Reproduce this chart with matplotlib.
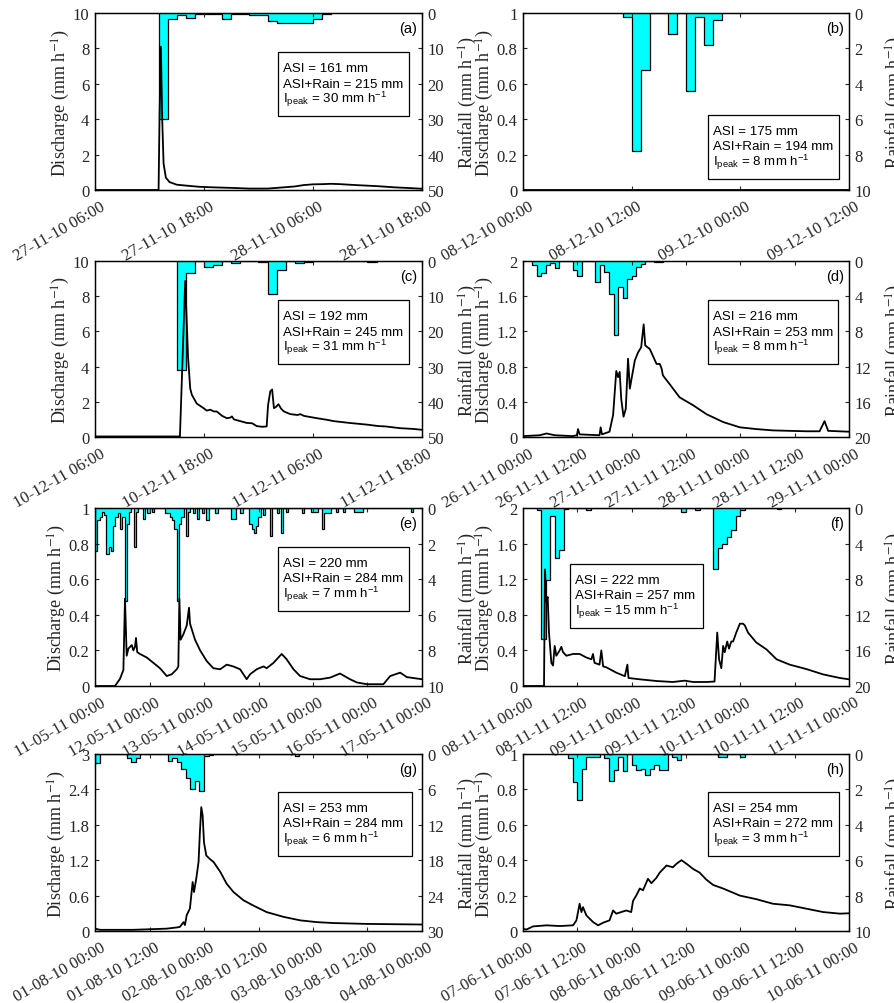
import numpy as np
import matplotlib
matplotlib.use('Agg')
import matplotlib.pyplot as plt
from matplotlib.patches import Rectangle
import matplotlib.transforms as mtransforms

plt.rcParams['font.family'] = ['Liberation Serif', 'DejaVu Serif']
plt.rcParams['mathtext.fontset'] = 'custom'
plt.rcParams['mathtext.rm'] = 'Liberation Sans'
plt.rcParams['mathtext.it'] = 'Liberation Sans:italic'
plt.rcParams['mathtext.bf'] = 'Liberation Sans:bold'
plt.rcParams['axes.linewidth'] = 0.9

# ---------------- data (hours from the left edge of each panel) ----------------
# (a)
a_xlabels = ['27-11-10 06:00', '27-11-10 18:00', '28-11-10 06:00', '28-11-10 18:00']
a_q_h = [0, 7.0, 7.1, 7.25, 7.4, 7.55, 7.8, 8.2, 9.0, 10.0, 11.5, 13, 15, 17, 19, 20, 22, 23, 24, 25, 26, 27, 29, 31, 33, 35, 36]
a_q_v = [0, 0, 4.0, 8.1, 4.0, 1.5, 0.7, 0.45, 0.3, 0.25, 0.18, 0.15, 0.12, 0.08, 0.08, 0.12, 0.2, 0.28, 0.32, 0.33, 0.35, 0.33, 0.27, 0.22, 0.15, 0.1, 0.07]
a_rain_h = list(range(7, 26))
a_rain_v = [30, 1.8, 0.6, 1.3, 0.4, 0.4, 0.4, 1.8, 0.4, 0.4, 0.6, 0.6, 2.35, 2.7, 2.7, 2.9, 2.7, 1.8, 0.2]
a_text = ['ASI = 161 mm', 'ASI+Rain = 215 mm', '30']

# (b)
b_xlabels = ['08-12-10 00:00', '08-12-10 12:00', '09-12-10 00:00', '09-12-10 12:00']
b_q_h = [0, 36]
b_q_v = [0, 0]
b_rain_h = list(range(11, 22))
b_rain_v = [0.2, 7.8, 3.2, 0, 0, 1.2, 0, 4.4, 0.2, 1.8, 0.4]
b_text = ['ASI = 175 mm', 'ASI+Rain = 194 mm', '8']

# (c)
c_xlabels = ['10-12-11 06:00', '10-12-11 18:00', '11-12-11 06:00', '11-12-11 18:00']
c_q_h = [0, 9.35, 9.93, 10.25, 10.48, 10.66, 11.2, 11.95, 12.3, 12.7, 13.1, 13.4, 14.0, 14.5, 14.9,
         15.07, 15.3, 16.0, 16.7, 17.3, 17.8, 18.4, 18.9, 19.05, 19.3, 19.5, 19.7, 19.9, 20.2, 20.5,
         20.8, 21.5, 22.3, 22.6, 23.0, 24.4, 25.5, 26.3, 28, 30, 31.2, 32, 33.6, 35, 36]
c_q_v = [0.03, 0.03, 8.87, 4.5, 2.76, 2.4, 1.9, 1.64, 1.5, 1.55, 1.45, 1.45, 1.2, 1.07, 1.1,
         1.17, 1.0, 0.9, 0.8, 0.78, 0.62, 0.58, 0.6, 1.8, 2.6, 2.7, 1.64, 1.7, 1.86, 1.6,
         1.45, 1.3, 1.25, 1.3, 1.2, 1.07, 0.98, 0.9, 0.8, 0.7, 0.62, 0.6, 0.5, 0.46, 0.41]
c_rain_h = list(range(9, 31))
c_rain_v = [31, 3.5, 0, 1.6, 1.2, 0, 0.5, 0, 0, 0.3, 9.4, 2.6, 0, 0.5, 0.2, 0.1, 0, 0, 0, 0, 0, 0.2]
c_text = ['ASI = 192 mm', 'ASI+Rain = 245 mm', '31']

# (d)
d_xlabels = ['26-11-11 00:00', '26-11-11 12:00', '27-11-11 00:00', '27-11-11 12:00',
             '28-11-11 00:00', '28-11-11 12:00', '29-11-11 00:00']
d_q_h = [0, 3.7, 5.2, 7.0, 11.0, 11.9, 12.15, 12.5, 16.9, 17.15, 17.45, 19.1, 19.9, 20.6, 21.0,
         21.35, 21.7, 22.2, 22.7, 23.2, 23.6, 23.9, 24.7, 25.4, 26.1, 26.65, 27.0, 28.0, 29.5,
         30.2, 30.6, 30.9, 32.4, 34.6, 37.6, 40.5, 44.2, 47.9, 51.5, 55.2, 62.6, 65.5, 66.6, 67.4, 72]
d_q_v = [0.01, 0.02, 0.04, 0.02, 0.01, 0.02, 0.09, 0.03, 0.02, 0.11, 0.03, 0.06, 0.25, 0.75, 0.68,
         0.74, 0.43, 0.23, 0.32, 0.89, 0.55, 0.64, 0.87, 0.96, 1.02, 1.28, 1.04, 1.0, 0.83,
         0.83, 0.78, 0.7, 0.6, 0.45, 0.36, 0.26, 0.17, 0.11, 0.09, 0.075, 0.065, 0.065, 0.18, 0.07, 0.06]
d_rain_h = list(range(2, 31))
d_rain_v = [0.5, 1.75, 1.4, 0.5, 0.2, 0.75, 0, 0, 0, 1.0, 1.75, 0, 0, 0, 2.4, 0.4, 1.25, 3.8, 8.4,
            3.0, 4.2, 2.0, 1.75, 0.7, 0.3, 0, 0, 0.1, 0.1]
d_text = ['ASI = 216 mm', 'ASI+Rain = 253 mm', '8']

# (e)
e_xlabels = ['11-05-11 00:00', '12-05-11 00:00', '13-05-11 00:00', '14-05-11 00:00',
             '15-05-11 00:00', '16-05-11 00:00', '17-05-11 00:00']
e_q_h = [0, 8.8, 11.0, 12.5, 13.2, 13.65, 13.95, 14.7, 16.2, 16.9, 17.6, 18.06, 18.6, 19.8, 22.8,
         25.7, 28.6, 31.6, 33.8, 36.0, 36.7, 37.15, 37.7, 38.9, 40.4, 41.4, 41.85, 44.05, 46.3,
         49.2, 52.1, 55.1, 58.0, 60.9, 63.9, 66.8, 68.3, 71.2, 74.2, 75.6, 78.6, 82.2, 84.4, 87.4,
         90.3, 94.7, 99.1, 103.5, 107.9, 112.3, 115.3, 119.7, 127.0, 130.0, 134.4, 137.3, 144]
e_q_v = [0, 0, 0.04, 0.09, 0.49, 0.3, 0.17, 0.21, 0.23, 0.2, 0.22, 0.27, 0.19, 0.18, 0.16,
         0.13, 0.1, 0.056, 0.066, 0.094, 0.11, 0.49, 0.26, 0.29, 0.34, 0.44, 0.35, 0.26, 0.2,
         0.14, 0.10, 0.094, 0.12, 0.11, 0.094, 0.038, 0.066, 0.094, 0.11, 0.10, 0.13, 0.18, 0.15, 0.094,
         0.056, 0.038, 0.038, 0.047, 0.07, 0.038, 0.02, 0.01, 0.01, 0.056, 0.075, 0.05, 0.038]
e_rain_h = [0, 1, 2, 3, 4, 5, 6, 7, 8, 9, 10, 11, 12, 13, 14, 15, 17, 18, 21, 23, 25,
            31, 32, 33, 34, 35, 36, 37, 38, 40, 41, 43, 45, 47, 49, 53, 60, 61, 64,
            68, 69, 70, 71, 72, 74, 77, 80, 82, 84, 91, 95, 96, 97, 100, 101, 102, 103,
            106, 109, 114, 115, 116, 117, 139]
e_rain_v = [2.4, 0.7, 0.5, 0.2, 0.4, 2.6, 2.2, 2.4, 1.0, 0.5, 0.3, 1.2, 0.5, 5.2, 0.9, 0.2, 2.2, 0.2, 0.6, 0.3, 0.2,
            0.3, 0.3, 0.5, 0.7, 1.2, 5.2, 0.9, 0.5, 1.6, 0.2, 0.3, 0.6, 0.3, 0.7, 0.3, 0.6, 0.6, 0.3,
            0.9, 1.2, 1.4, 1.0, 0.5, 0.4, 1.6, 0.3, 1.4, 0.2, 0.3, 0.2, 0.2, 0.2, 1.2, 0.3, 0.3, 0.3,
            0.2, 0.2, 0.2, 0.2, 0.2, 0.2, 0.2]
e_text = ['ASI = 220 mm', 'ASI+Rain = 284 mm', '7']

# (f)
f_xlabels = ['08-11-11 00:00', '08-11-11 12:00', '09-11-11 00:00', '09-11-11 12:00',
             '10-11-11 00:00', '10-11-11 12:00', '11-11-11 00:00']
f_q_h = [0, 4.64, 4.86, 5.15, 5.45, 5.74, 6.26, 6.63, 7.0, 7.36, 8.1, 8.47, 8.84, 9.57, 11.05,
         12.5, 14.0, 15.1, 15.46, 15.8, 16.9, 17.3, 17.7, 18.4, 20.6, 22.5, 23.05, 23.3, 25.8,
         29.5, 33.1, 35.7, 37.6, 40.5, 42.3, 42.9, 43.3, 43.8, 44.2, 44.55, 45.1, 45.5, 46.0,
         46.4, 47.1, 47.9, 48.6, 49.0, 49.7, 51.5, 53.8, 56.0, 58.9, 62.6, 66.3, 70.0, 72]
f_q_v = [0, 0, 1.31, 0.95, 1.0, 0.6, 0.26, 0.23, 0.45, 0.34, 0.4, 0.44, 0.38, 0.34, 0.36,
         0.36, 0.32, 0.3, 0.36, 0.26, 0.24, 0.4, 0.22, 0.21, 0.15, 0.11, 0.24, 0.09, 0.075,
         0.056, 0.045, 0.06, 0.045, 0.045, 0.05, 0.6, 0.3, 0.2, 0.45, 0.38, 0.5, 0.42, 0.5,
         0.5, 0.6, 0.7, 0.7, 0.68, 0.6, 0.49, 0.41, 0.3, 0.24, 0.19, 0.13, 0.09, 0.075]
f_rain_h = [3, 4, 5, 6, 7, 8, 9, 14, 35, 38, 42, 43, 44, 45, 46, 47, 48, 56]
f_rain_v = [0.23, 14.7, 8.1, 0.9, 5.6, 4.75, 0.1, 0.2, 0.4, 0.2, 6.8, 4.5, 4.0, 3.3, 2.5, 0.9, 0.2, 0.1]
f_text = ['ASI = 222 mm', 'ASI+Rain = 257 mm', '15']

# (g)
g_xlabels = ['01-08-10 00:00', '01-08-10 12:00', '02-08-10 00:00', '02-08-10 12:00',
             '03-08-10 00:00', '03-08-10 12:00', '04-08-10 00:00']
g_q_h = [0, 1.1, 8.4, 12.1, 15.8, 18.0, 18.7, 19.5, 19.8, 20.2, 20.9, 21.5, 21.8, 22.3, 22.8,
         23.1, 23.4, 23.7, 24.0, 24.5, 25.3, 26.1, 27.6, 29.0, 30.5, 32.7, 34.9, 37.8, 41.5,
         45.2, 48.9, 52.5, 59.9, 72]
g_q_v = [0.04, 0.02, 0.02, 0.03, 0.04, 0.06, 0.07, 0.15, 0.1, 0.27, 0.38, 0.83, 0.66, 0.89, 1.17,
         1.68, 2.1, 1.96, 1.5, 1.28, 1.22, 1.17, 1.0, 0.8, 0.66, 0.52, 0.43, 0.32, 0.24,
         0.18, 0.15, 0.135, 0.12, 0.11]
g_rain_h = [0, 7, 8, 9, 16, 17, 18, 19, 20, 21, 22, 23, 24, 25, 44]
g_rain_v = [1.5, 0.7, 1.4, 0.7, 1.24, 0.7, 1.3, 2.5, 4.0, 5.9, 4.5, 6.2, 0.3, 0.1, 0.3]
g_text = ['ASI = 253 mm', 'ASI+Rain = 284 mm', '6']

# (h)
h_xlabels = ['07-06-11 00:00', '07-06-11 12:00', '08-06-11 00:00', '08-06-11 12:00',
             '09-06-11 00:00', '09-06-11 12:00', '10-06-11 00:00']
h_q_h = [0, 0.74, 2.2, 5.2, 8.1, 11.05, 11.8, 12.5, 12.9, 13.25, 14.0, 15.5, 16.6, 17.7, 19.1,
         19.9, 20.6, 21.7, 22.8, 23.9, 24.3, 25.0, 25.8, 26.5, 27.6, 28.35, 29.45, 30.2, 31.7,
         33.1, 33.9, 35.0, 36.1, 37.6, 39.0, 40.5, 42.0, 44.2, 47.9, 51.5, 55.2, 58.9, 62.6,
         66.3, 70.0, 72]
h_q_v = [0.013, 0.008, 0.026, 0.032, 0.028, 0.032, 0.06, 0.154, 0.107, 0.135, 0.088, 0.05, 0.032, 0.047, 0.06,
         0.116, 0.098, 0.107, 0.116, 0.107, 0.17, 0.2, 0.24, 0.23, 0.295, 0.27, 0.3, 0.33, 0.37,
         0.36, 0.38, 0.4, 0.38, 0.35, 0.33, 0.29, 0.26, 0.24, 0.2, 0.18, 0.154, 0.145, 0.126,
         0.107, 0.098, 0.1]
h_rain_h = [10, 11, 12, 13, 14, 15, 16, 18, 19, 20, 21, 22, 24, 25, 26, 27, 28, 29, 30, 31, 33, 34, 43, 44, 48]
h_rain_v = [0.25, 1.6, 2.6, 0.87, 0.17, 0.17, 0.17, 0.2, 1.5, 0.9, 0.17, 0.94, 0.62, 0.92, 0.85, 1.2,
            0.85, 0.6, 0.9, 0.9, 0.17, 0.36, 0.17, 0.17, 0.17]
h_text = ['ASI = 254 mm', 'ASI+Rain = 272 mm', '3']

# axis scales
q_ticks = {'a': [0, 2, 4, 6, 8, 10], 'b': [0, 0.2, 0.4, 0.6, 0.8, 1], 'c': [0, 2, 4, 6, 8, 10],
           'd': [0, 0.4, 0.8, 1.2, 1.6, 2], 'e': [0, 0.2, 0.4, 0.6, 0.8, 1], 'f': [0, 0.4, 0.8, 1.2, 1.6, 2],
           'g': [0, 0.6, 1.2, 1.8, 2.4, 3], 'h': [0, 0.2, 0.4, 0.6, 0.8, 1]}
r_ticks = {'a': [0, 10, 20, 30, 40, 50], 'b': [0, 2, 4, 6, 8, 10], 'c': [0, 10, 20, 30, 40, 50],
           'd': [0, 4, 8, 12, 16, 20], 'e': [0, 2, 4, 6, 8, 10], 'f': [0, 4, 8, 12, 16, 20],
           'g': [0, 6, 12, 18, 24, 30], 'h': [0, 2, 4, 6, 8, 10]}
spans = {'a': 36, 'b': 36, 'c': 36, 'd': 72, 'e': 144, 'f': 72, 'g': 72, 'h': 72}

panels = {
    'a': (a_xlabels, a_q_h, a_q_v, a_rain_h, a_rain_v, a_text),
    'b': (b_xlabels, b_q_h, b_q_v, b_rain_h, b_rain_v, b_text),
    'c': (c_xlabels, c_q_h, c_q_v, c_rain_h, c_rain_v, c_text),
    'd': (d_xlabels, d_q_h, d_q_v, d_rain_h, d_rain_v, d_text),
    'e': (e_xlabels, e_q_h, e_q_v, e_rain_h, e_rain_v, e_text),
    'f': (f_xlabels, f_q_h, f_q_v, f_rain_h, f_rain_v, f_text),
    'g': (g_xlabels, g_q_h, g_q_v, g_rain_h, g_rain_v, g_text),
    'h': (h_xlabels, h_q_h, h_q_v, h_rain_h, h_rain_v, h_text),
}

# ---------------- layout ----------------
FW, FH = 894, 1004
col_x = [(95, 327), (523, 326)]
row_y = [(14, 177), (262, 176), (509, 178), (755, 177)]
grid = {'a': (0, 0), 'b': (0, 1), 'c': (1, 0), 'd': (1, 1),
        'e': (2, 0), 'f': (2, 1), 'g': (3, 0), 'h': (3, 1)}
# text box: left and top in pixels, width in pixels
boxes = {'a': (278, 53, 131), 'b': (708, 116, 131), 'c': (278, 301, 131), 'd': (708, 301, 130),
         'e': (278, 548, 131), 'f': (570, 565, 133), 'g': (278, 793, 134), 'h': (708, 793, 131)}

TICKC = '#262626'
TFS = 12
fig = plt.figure(figsize=(FW / 100, FH / 100), dpi=100)

for key, (xlabels, qh, qv, rh, rv, txt) in panels.items():
    r, c = grid[key]
    x0, w = col_x[c]
    y0, h = row_y[r]
    ax = fig.add_axes([x0 / FW, 1 - (y0 + h) / FH, w / FW, h / FH])
    axr = ax.twinx()
    ax.set_zorder(axr.get_zorder() + 1)
    ax.patch.set_visible(False)

    span = spans[key]
    # rainfall (hyetograph, inverted on the right axis)
    hrs = np.arange(min(rh), max(rh) + 1)
    vals = np.zeros(len(hrs))
    for hh, vv in zip(rh, rv):
        vals[hh - hrs[0]] = vv
    edges = np.arange(hrs[0], hrs[-1] + 2)
    axr.stairs(vals, edges, baseline=0, fill=True, facecolor='#00ffff',
               edgecolor='black', linewidth=0.9)
    rt = r_ticks[key]
    axr.set_ylim(rt[-1], 0)
    axr.set_yticks(rt)
    axr.set_yticklabels([f'{t:g}' for t in rt])

    # discharge
    ax.plot(qh, qv, color='black', lw=1.3, solid_joinstyle='round')
    qt = q_ticks[key]
    ax.set_ylim(qt[0], qt[-1])
    ax.set_yticks(qt)
    ax.set_yticklabels([f'{t:g}' for t in qt])
    ax.set_xlim(0, span)
    step = span / (len(xlabels) - 1)
    ax.set_xticks([i * step for i in range(len(xlabels))])
    ax.set_xticklabels(xlabels, rotation=30, ha='right', va='top', rotation_mode='anchor')

    ax.tick_params(axis='x', direction='in', top=True, length=3, width=0.8,
                   labelsize=TFS, colors=TICKC, pad=6)
    ax.tick_params(axis='y', direction='in', left=True, right=False, length=3, width=0.8,
                   labelsize=TFS, colors=TICKC, pad=4)
    axr.tick_params(axis='y', direction='in', length=3, width=0.8,
                    labelsize=TFS, colors=TICKC, pad=4)
    off = mtransforms.ScaledTranslation(5 / 100, 0, fig.dpi_scale_trans)
    for lab in ax.get_xticklabels():
        lab.set_transform(lab.get_transform() + off)

    for sp in ax.spines.values():
        sp.set_color('black')
    for sp in axr.spines.values():
        sp.set_color('black')

    ax.set_ylabel('Discharge (mm h$^{-1}$)', fontsize=13, color=TICKC, labelpad=0.5,
                  math_fontfamily='stix')
    axr.set_ylabel('Rainfall (mm h$^{-1}$)', fontsize=13, color=TICKC, labelpad=9,
                   math_fontfamily='stix')

    # panel letter
    ax.text(1 - 5 / w, 1 - 8 / h, f'({key})', transform=ax.transAxes, ha='right', va='top',
            fontsize=10.5, family='Liberation Sans', zorder=7)

    # info box
    bl, bt, bw = boxes[key]
    bh = 64
    lf = (bl - x0) / w
    tf = 1 - (bt - y0) / h
    ax.add_patch(Rectangle((lf, tf - bh / h), bw / w, bh / h, transform=ax.transAxes,
                           facecolor='white', edgecolor='black', lw=0.9, zorder=5))
    lines = [txt[0], txt[1], 'I$_{\\mathrm{peak}}$ = ' + txt[2] + ' mm h$^{\\mathrm{-1}}$']
    for line, dy in zip(lines, [19, 34.5, 50]):
        ax.text(lf + 5 / w, tf - dy / h, line, transform=ax.transAxes, ha='left', va='baseline',
                fontsize=9.6, family='Liberation Sans', math_fontfamily='custom', zorder=6)

fig.savefig('out.png', dpi=100)
